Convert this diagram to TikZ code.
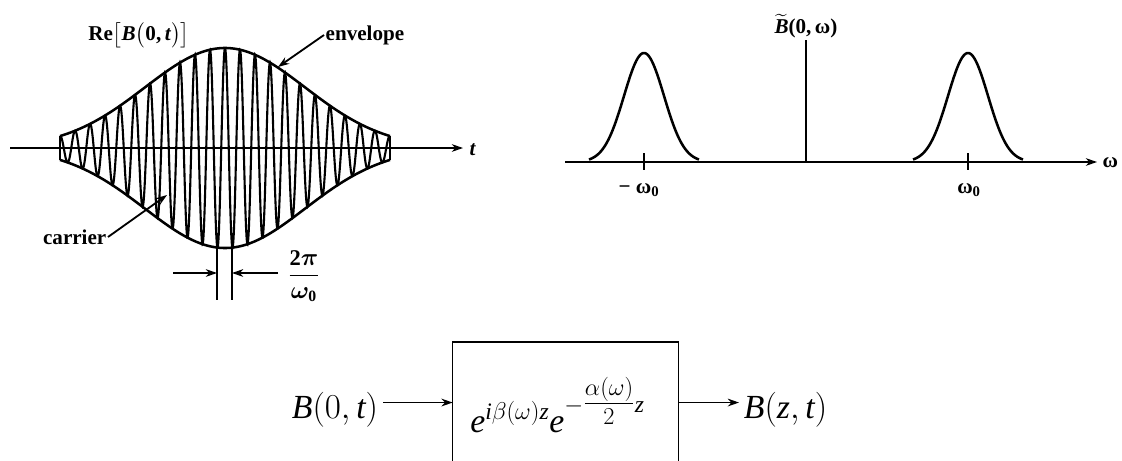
\documentclass[tikz,border=0pt]{standalone}
\usepackage{amsmath,amssymb}
\usepackage{bm}
\usepackage{fontspec}
\setmainfont{Liberation Serif}
\usepackage{tikz}
\usetikzlibrary{positioning}
\usetikzlibrary{arrows.meta}
\usetikzlibrary{calc}
\newcommand{\envl}[1]{100*exp(-0.5*((#1-225)/80)^2)}
\tikzset{
  lbl/.style={font=\fontsize{15}{18}\selectfont\bfseries,inner sep=1pt},
  axis/.style={line width=1.3pt},
  pulse/.style={line width=1.8pt},
  big/.style={font=\fontsize{24}{29}\selectfont},
}

\begin{document}
\begin{tikzpicture}[x=0.025cm,y=-0.025cm,>={Stealth[length=8pt,width=5.5pt]}]
  \useasboundingbox (0,0) rectangle (1122,460);
  \clip (0,0) rectangle (1122,460);
  % time signal: carrier under a gaussian envelope
  \draw[->,axis] (10,148) -- (463,148);
  \node[lbl,anchor=west] (tlab) at (468,150) {\textit{t}};
  \draw[line width=1.5pt,samples=900,domain=60:390] plot (\x,{148-\envl{\x}*cos(24*(\x-225))});
  \draw[pulse,samples=120,domain=60:390] plot (\x,{148-\envl{\x}});
  \draw[pulse,samples=120,domain=60:390] plot (\x,{148+\envl{\x}});
  \draw[pulse] (60,136) -- (60,160); \draw[pulse] (390,136) -- (390,160);
  % one period of the carrier
  \draw[line width=1pt] (217,243) -- (217,300);
  \draw[line width=1pt] (232,243) -- (232,300);
  \draw[->,axis] (173,273) -- (217,273);
  \draw[->,axis] (278,273) -- (232,273);
  \node[font=\fontsize{16}{19}\selectfont] (per) at (304,276) {$\dfrac{\mathbf{2}\boldsymbol{\pi}}{\boldsymbol{\omega}_{\mathbf{0}}}$};
  \node[lbl] (re) at (139,35) {Re$\bigl[$\textit{B}$\bigl($0,\,\textit{t}$\bigr)\bigr]$};
  \node[lbl,anchor=west] (env) at (324,35) {envelope};
  \coordinate (envtip) at (278,67);
  \draw[->,axis] (env.west) -- (envtip);
  \node[lbl,anchor=east] (car) at (108,237) {carrier};
  \coordinate (cartip) at (167,195);
  \draw[->,axis] (car.east) -- (cartip);
  % spectrum: two lobes at -w0 and w0
  \draw[->,axis] (565,162) -- (1097,162);
  \node[lbl,anchor=west] (wlab) at (1101,163) {ω};
  \draw[line width=1pt] (806,162) -- (806,40);
  \node[lbl,anchor=south] (spec) at (806,40) {$\widetilde{\textbf{\textit{B}}}$(0,\,ω)};
  \foreach \c/\a/\b in {644/589/699,968/913/1023}{
    \draw[pulse,samples=80,domain=\a:\b] plot (\x,{162-109*exp(-0.5*((\x-\c)/20)^2)});
    \draw[line width=1pt] (\c,153) -- (\c,170);
  }
  \node[lbl] (wneg) at (639,190) {− ω\textsubscript{0}};
  \node[lbl] (wpos) at (969,190) {ω\textsubscript{0}};
  % propagation block (runs off the bottom edge)
  \node[big,anchor=base] (in) at (335,418) {$\mathit{B}(0,\mathit{t})$};
  \node[minimum width=5.625cm,minimum height=5cm,anchor=north] (box) at (565.5,342) {};
  \draw[line width=1pt] (box.south west) -- (box.north west) -- (box.north east) -- (box.south east);
  \node[big,anchor=base west,inner sep=0pt] (gain) at (470,432)
    {$\mathit{e}^{\mathit{i}\beta(\omega)\mathit{z}}\mathit{e}^{\raisebox{5pt}{$\scriptstyle-{\textstyle\frac{\alpha(\omega)}{2}}\mathit{z}$}}$};
  \node[big,anchor=base west] (out) at (739,418) {$\mathit{B}(\mathit{z},\mathit{t})$};
  \coordinate (ain) at ([yshift=11pt]in.base east);
  \coordinate (aout) at ([yshift=11pt]out.base west);
  \draw[->,line width=1.2pt] (ain) -- (ain -| box.west);
  \draw[->,line width=1.2pt] (aout -| box.east) -- (aout);
\end{tikzpicture}
\end{document}
